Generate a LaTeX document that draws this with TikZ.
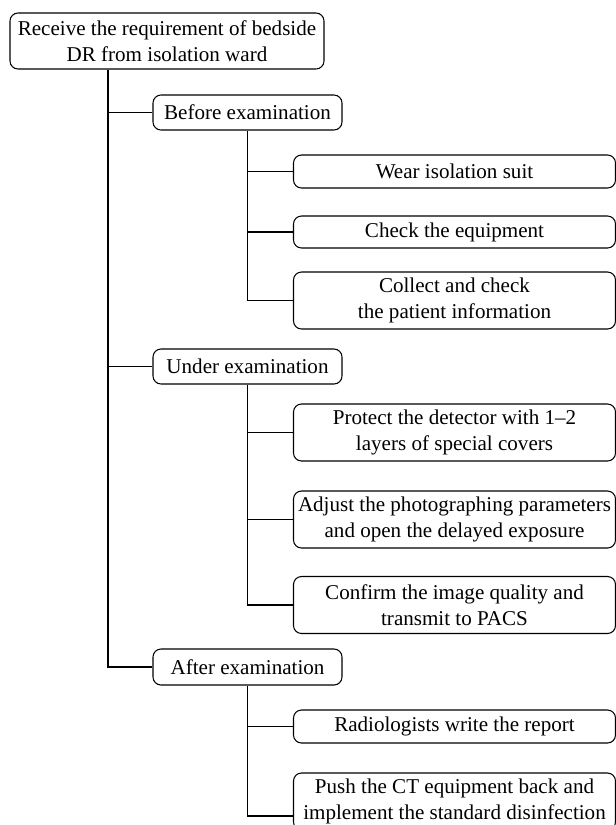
\documentclass[tikz,border=0pt]{standalone}
\usepackage{fontspec}
\setmainfont{Liberation Serif}
\usetikzlibrary{calc}
\begin{document}
\begin{tikzpicture}[x=0.75pt,y=-0.75pt,
  box/.style={draw,line width=0.8pt,rounded corners=6pt,align=center,inner sep=0pt,
    font=\fontsize{15.8}{19.5}\selectfont},
  conn/.style={line width=0.8pt,line join=miter}]
\useasboundingbox (0,0) rectangle (616,825);
% root
\node[box,minimum width=314*0.75pt,minimum height=56*0.75pt] (root) at (167,41)
  {Receive the requirement of bedside\\DR from isolation ward};
% level 1
\node[box,minimum width=189*0.75pt,minimum height=35*0.75pt] (before) at (247.5,112.5) {Before examination};
\node[box,minimum width=189*0.75pt,minimum height=35*0.75pt] (under) at (247.5,366.5) {Under examination};
\node[box,minimum width=189*0.75pt,minimum height=36*0.75pt] (after) at (247.5,667) {After examination};
% level 2
\tikzset{leaf/.style={box,minimum width=322*0.75pt}}
\node[leaf,minimum height=33*0.75pt] (wear) at (454.5,171.5) {Wear isolation suit};
\node[leaf,minimum height=32*0.75pt] (check) at (454.5,232) {Check the equipment};
\node[leaf,minimum height=57*0.75pt] (collect) at (454.5,300.5) {Collect and check\\the patient information};
\node[leaf,minimum height=57*0.75pt] (protect) at (454.5,432.5) {Protect the detector with 1–2\\layers of special covers};
\node[leaf,minimum height=57*0.75pt] (adjust) at (454.5,519.5) {Adjust the photographing parameters\\and open the delayed exposure};
\node[leaf,minimum height=57*0.75pt] (confirm) at (454.5,605) {Confirm the image quality and\\transmit to PACS};
\node[leaf,minimum height=33*0.75pt] (radio) at (454.5,726.5) {Radiologists write the report};
\node[leaf,minimum height=57*0.75pt] (push) at (454.5,801.5) {Push the CT equipment back and\\implement the standard disinfection};
% trunks
\coordinate (mt) at (108,0);
\coordinate (pw) at ($(push.west)+(0,14.5)$);
\draw[conn] (mt |- root.south) -- (mt |- after.west) -- (after.west);
\foreach \n in {before,under} \draw[conn] (mt |- \n.west) -- (\n.west);
\draw[conn] (before.south) -- (before.south |- collect.west) -- (collect.west);
\foreach \n in {wear,check} \draw[conn] (before.south |- \n.west) -- (\n.west);
\draw[conn] (under.south) -- (under.south |- confirm.west) -- (confirm.west);
\foreach \n in {protect,adjust} \draw[conn] (under.south |- \n.west) -- (\n.west);
\draw[conn] (after.south) -- (after.south |- pw) -- (pw);
\draw[conn] (after.south |- radio.west) -- (radio.west);
\end{tikzpicture}
\end{document}
